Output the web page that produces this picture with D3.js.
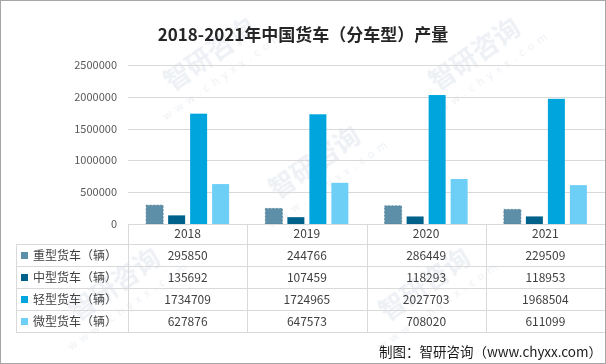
<!DOCTYPE html>
<html><head><meta charset="utf-8">
<script src="https://cdn.jsdelivr.net/npm/d3@7"></script>
<style>
html,body{margin:0;padding:0;background:#fff;}
svg{display:block;font-family:"Noto Sans CJK SC","Noto Sans",sans-serif;}
</style></head>
<body><svg id="c" width="606" height="364"></svg>
<script>
const years = ["2018","2019","2020","2021"];
const seriesNames = ["重型货车（辆）","中型货车（辆）","轻型货车（辆）","微型货车（辆）"];
const heavy = [295850,244766,286449,229509];
const medium = [135692,107459,118293,118953];
const light = [1734709,1724965,2027703,1968504];
const mini = [627876,647573,708020,611099];
const yTicks = [0,500000,1000000,1500000,2000000,2500000];
const colors = ["#5d8fa8","#00628a","#00a5dd","#6dcff6"];
const title = "2018-2021年中国货车（分车型）产量";
const source = "制图：智研咨询（www.chyxx.com）";

(function(){
const values = [heavy, medium, light, mini];
const svg = d3.select("#c");
const W = 606, H = 364;

// watermarks
const wm = svg.append("g").attr("fill","#dfe4ec").attr("opacity",0.55);
const wmPos = [[215,62],[480,62],[320,170],[120,292],[430,292]];
wmPos.forEach(p=>{
  const g = wm.append("g").attr("transform",`translate(${p[0]},${p[1]}) rotate(-35)`);
  g.append("text").attr("text-anchor","middle").attr("font-size",26).attr("font-weight","bold").text("智研咨询");
  g.append("text").attr("text-anchor","middle").attr("y",20).attr("font-size",11).attr("letter-spacing","5px").text("www.chyxx.com");
});

const pL = 128, pR = 605, pT = 65, pB = 224;
const x = d3.scaleBand().domain(years).range([pL, pR]).paddingInner(0).paddingOuter(0);
const sub = d3.scaleBand().domain(d3.range(4)).range([-41.5, 41.5]).paddingInner(5/22).paddingOuter(0);
const y = d3.scaleLinear().domain([0,2500000]).range([pB, pT]);

// gridlines
svg.append("g").selectAll("line").data(yTicks).join("line")
  .attr("x1",pL).attr("x2",pR)
  .attr("y1",d=>Math.round(y(d))+0.5).attr("y2",d=>Math.round(y(d))+0.5)
  .attr("stroke","#d9d9d9").attr("stroke-width",1);

// y axis labels
const yAxis = d3.axisLeft(y).tickValues(yTicks).tickSize(0).tickPadding(0).tickFormat(d3.format("d"));
const ya = svg.append("g").attr("transform",`translate(117,0)`).call(yAxis);
ya.select(".domain").remove();
ya.selectAll("text").attr("font-size",11).attr("fill","#595959").attr("font-family","'Noto Sans CJK SC',sans-serif");

// bars
values.forEach((arr,si)=>{
  svg.append("g").selectAll("rect").data(arr).join("rect")
    .attr("x",(d,i)=>x(years[i])+x.bandwidth()/2+sub(si))
    .attr("width",sub.bandwidth())
    .attr("y",d=>y(d))
    .attr("height",d=>y(0)-y(d))
    .attr("fill",colors[si])
    .attr("stroke",si===0?"#4a7a92":"none")
    .attr("stroke-width",si===0?0.7:0)
    .attr("stroke-dasharray",si===0?"2,1.5":null);
});

// table
const tbl = svg.append("g");
const rowTop = 244, rowH = 22, tblLeft = 16;
const grid = "#d9d9d9";
tbl.append("line").attr("x1",pL).attr("x2",pR).attr("y1",pB+0.5).attr("y2",pB+0.5).attr("stroke",grid);
for(let r=0;r<=4;r++){
  const yy = rowTop + r*rowH + 0.5;
  tbl.append("line").attr("x1",tblLeft).attr("x2",pR).attr("y1",yy).attr("y2",yy).attr("stroke",grid);
}
tbl.append("line").attr("x1",tblLeft+0.5).attr("x2",tblLeft+0.5).attr("y1",rowTop).attr("y2",rowTop+4*rowH).attr("stroke",grid);
const vx = years.map(d=>x(d)).concat([pR]);
vx.forEach(v=>{
  const xx = Math.round(v)+0.5;
  tbl.append("line").attr("x1",xx).attr("x2",xx).attr("y1",pB).attr("y2",rowTop+4*rowH).attr("stroke",grid);
});
tbl.selectAll("text.yr").data(years).join("text").attr("class","yr")
  .attr("x",d=>x(d)+x.bandwidth()/2).attr("y",234).attr("dy","0.35em")
  .attr("text-anchor","middle").attr("font-size",12).attr("fill","#404040").text(d=>d);
seriesNames.forEach((name,si)=>{
  const cy = rowTop + si*rowH + rowH/2 + 0.5;
  tbl.append("rect").attr("x",21).attr("y",cy-3.5).attr("width",7).attr("height",7).attr("fill",colors[si]);
  tbl.append("text").attr("x",33).attr("y",cy).attr("dy","0.35em").attr("font-size",12).attr("fill","#404040").text(name);
  tbl.append("g").selectAll("text").data(values[si]).join("text")
    .attr("x",(d,i)=>x(years[i])+x.bandwidth()/2).attr("y",cy).attr("dy","0.35em")
    .attr("text-anchor","middle").attr("font-size",12).attr("fill","#404040").text(d=>d);
});

svg.append("text").attr("x",W/2).attr("y",41).attr("text-anchor","middle")
  .attr("font-size",17).attr("font-weight","bold").attr("fill","#262626").text(title);

svg.append("text").attr("x",602).attr("y",357).attr("text-anchor","end")
  .attr("font-size",13.5).attr("fill","#1a1a1a").text(source);

svg.append("rect").attr("x",0.5).attr("y",0.5).attr("width",W-1).attr("height",H-1)
  .attr("fill","none").attr("stroke","#a6a6a6");
})();
</script></body></html>
